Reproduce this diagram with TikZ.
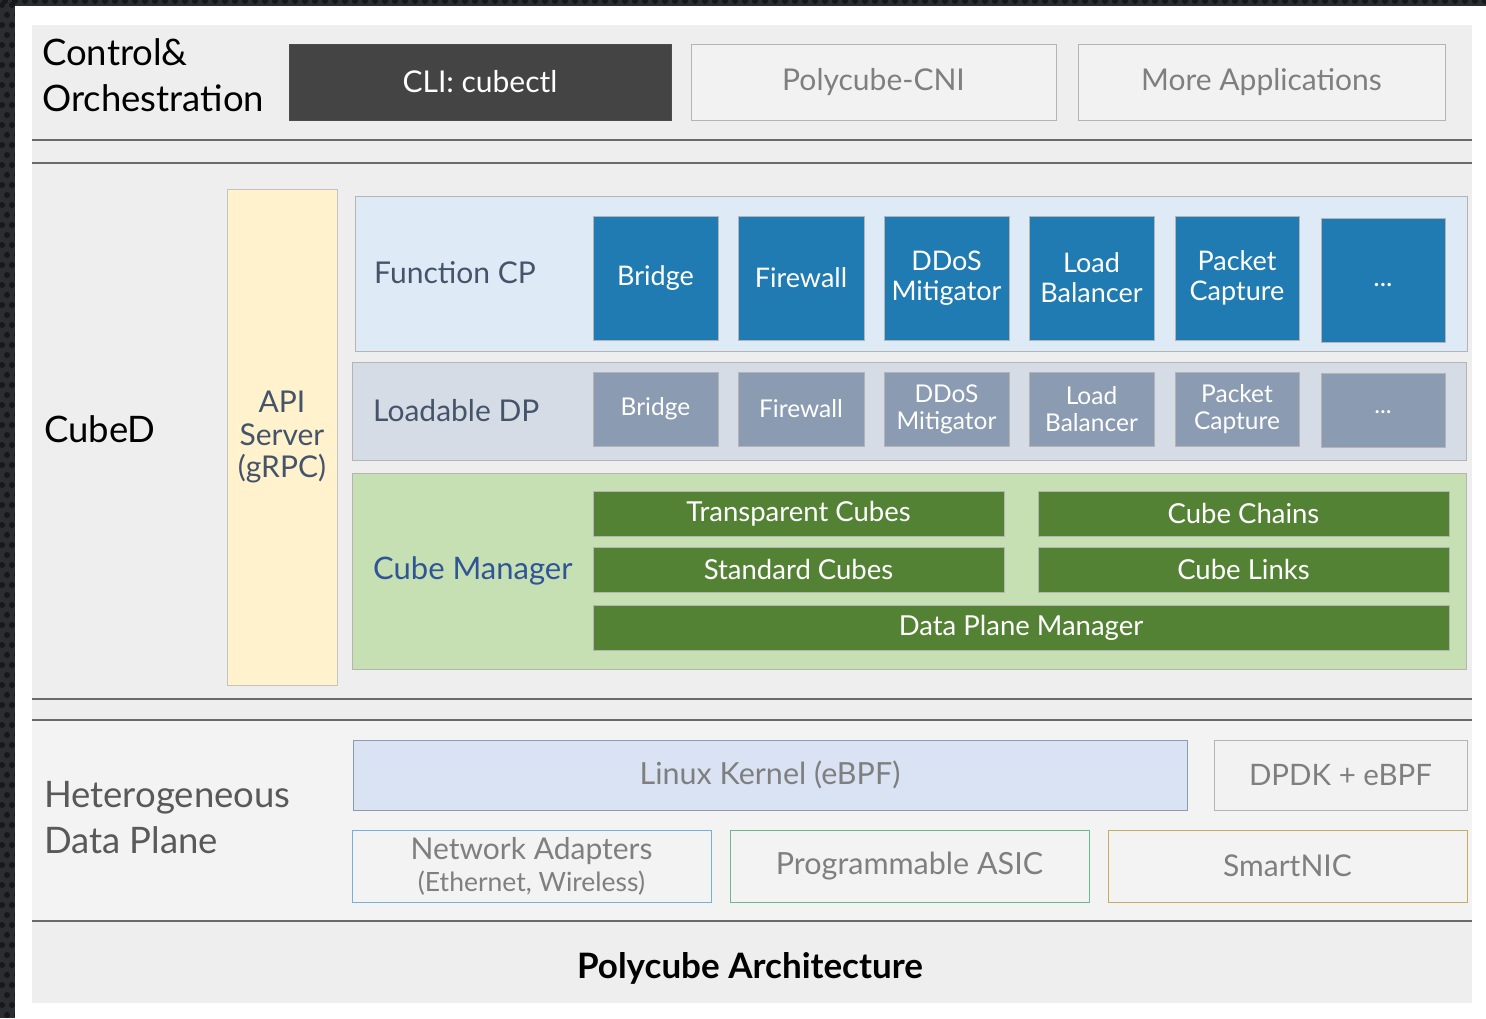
\documentclass[tikz,border=0pt]{standalone}
\usepackage{fontspec}
\setmainfont{Lato}
\definecolor{darkbg}{HTML}{2B2D30}
\definecolor{darkdot}{HTML}{17181A}
\definecolor{panelA}{HTML}{EEEEEE}
\definecolor{panelB}{HTML}{F3F3F3}
\definecolor{sepline}{HTML}{6A6A6A}
\definecolor{cliFill}{HTML}{444444}
\definecolor{lightbox}{HTML}{F2F2F2}
\definecolor{lightborder}{HTML}{B4B4B4}
\definecolor{greytext}{HTML}{7F7F7F}
\definecolor{slate}{HTML}{44546A}
\definecolor{apifill}{HTML}{FFF2CC}
\definecolor{cpfill}{HTML}{DEEBF7}
\definecolor{cpbox}{HTML}{1F7BB1}
\definecolor{dpfill}{HTML}{D6DCE5}
\definecolor{dpbox}{HTML}{8A9BB2}
\definecolor{cmfill}{HTML}{C6E0B4}
\definecolor{cmbox}{HTML}{548235}
\definecolor{cmtext}{HTML}{2F5597}
\definecolor{kernfill}{HTML}{DAE3F3}
\definecolor{kernborder}{HTML}{8C9BB0}
\definecolor{nicblue}{HTML}{71B3DC}
\definecolor{asicgreen}{HTML}{66BB8E}
\definecolor{smartgold}{HTML}{C9AB5E}
\newcommand{\boxat}[7]{\node[#6, anchor=north west, inner sep=0pt, outer sep=0pt, minimum width={(#4-#2)*1pt}, minimum height={(#5-#3)*1pt}] (#1) at (#2,#3) {#7};}
\tikzset{
  big/.style={font=\fontsize{36.5}{46}\selectfont},
  mid/.style={font=\fontsize{30}{34}\selectfont},
  hw/.style={font=\fontsize{30.5}{34}\selectfont},
  small/.style={font=\fontsize{27}{32}\selectfont},
  green/.style={font=\fontsize{27.5}{32}\selectfont},
  tiny/.style={font=\fontsize{24.5}{28}\selectfont},
  sepl/.style={draw=sepline, line width=1.4pt},
  appbox/.style={fill=lightbox, draw=lightborder, line width=1pt, text=greytext, mid, align=center},
  cpb/.style={fill=cpbox, draw=lightborder, line width=0.8pt, text=white, small, align=center},
  dpb/.style={fill=dpbox, draw=lightborder, line width=0.8pt, text=white, tiny, align=center},
  cmb/.style={fill=cmbox, draw=lightborder, line width=0.8pt, text=white, green, align=center},
  hwbox/.style={fill=panelB, line width=1pt, text=greytext, hw, align=center},
  lbl/.style={anchor=west, inner sep=0pt, align=left},
}
\begin{document}
\begin{tikzpicture}[x=1pt,y=-1pt]
\useasboundingbox (0,0) rectangle (1486,1018);
% dark background with dots
\fill[darkbg] (0,0) rectangle (1486,1018);
\foreach \j in {0,...,101} {
  \pgfmathsetmacro{\off}{mod(\j,2)*5}
  \foreach \i in {0,1} {
    \fill[darkdot] (2+\off+10*\i, 5+10*\j) circle (3);
  }
}
\foreach \i in {0,...,148} {
  \fill[darkdot] (5+10*\i, 1) circle (3);
}
\fill[white] (15,6) rectangle (1486,1018);
% section panels
\fill[panelA] (32,25) rectangle (1472,140);
\fill[panelA] (32,140) rectangle (1472,163);
\fill[panelA] (32,163) rectangle (1472,699);
\fill[panelA] (32,699) rectangle (1472,720);
\fill[panelB] (32,720) rectangle (1472,921);
\fill[panelA] (32,921) rectangle (1472,1003);
\draw[sepl] (32,140) -- (1472,140);
\draw[sepl] (32,163) -- (1472,163);
\draw[sepl] (32,699) -- (1472,699);
\draw[sepl] (32,720) -- (1472,720);
\draw[sepl] (32,921) -- (1472,921);

% Control & Orchestration
\node[lbl, big, anchor=north west, text=black] (ctl) at (42,38) {Control\&\\Orchestration};
\boxat{cli}{289}{44}{671}{120}{fill=cliFill, draw=black!70, line width=1pt, text=white, mid}{CLI: cubectl}
\boxat{cni}{691}{44}{1056}{120}{appbox}{Polycube-CNI}
\boxat{more}{1078}{44}{1445}{120}{appbox}{More Applications}

% CubeD
\node[lbl, big, text=black] (cubed) at (44,429) {CubeD};
\boxat{api}{227}{189}{337}{685}{fill=apifill, draw=lightborder!80, line width=1pt, text=slate, mid, align=center}{API\\[-1pt]Server\\[-2pt](gRPC)}

\boxat{fcp}{355}{196}{1467}{351}{fill=cpfill, draw=lightborder, line width=1pt}{}
\node[lbl, mid, text=slate] (fcplbl) at (374,273) {Function CP};
\boxat{cp1}{593}{216}{718}{340}{cpb}{Bridge}
\boxat{cp2}{738}{216}{864}{340}{cpb}{Firewall}
\boxat{cp3}{884}{216}{1009}{340}{cpb}{DDoS\\[-2pt]Mitigator}
\boxat{cp4}{1029}{216}{1154}{340}{cpb}{Load\\[-2pt]Balancer}
\boxat{cp5}{1175}{216}{1299}{340}{cpb}{Packet\\[-2pt]Capture}
\boxat{cp6}{1321}{218}{1445}{342}{cpb}{\raisebox{-6pt}[0pt][0pt]{...}}

\boxat{ldp}{352}{362}{1466}{460}{fill=dpfill, draw=lightborder, line width=1pt}{}
\node[lbl, mid, text=slate] (ldplbl) at (373,411) {Loadable DP};
\boxat{dp1}{593}{372}{718}{446}{dpb}{Bridge}
\boxat{dp2}{738}{372}{864}{446}{dpb}{Firewall}
\boxat{dp3}{884}{372}{1009}{446}{dpb}{DDoS\\[-1pt]Mitigator}
\boxat{dp4}{1029}{372}{1154}{446}{dpb}{Load\\[-1pt]Balancer}
\boxat{dp5}{1175}{372}{1299}{446}{dpb}{Packet\\[-1pt]Capture}
\boxat{dp6}{1321}{373}{1445}{447}{dpb}{\raisebox{-3pt}[0pt][0pt]{...}}

\boxat{cm}{352}{473}{1466}{669}{fill=cmfill, draw=lightborder, line width=1pt}{}
\node[lbl, mid, text=cmtext, font=\fontsize{31}{34}\selectfont] (cmlbl) at (373,571) {Cube Manager};
\boxat{tc}{593}{491}{1004}{536}{cmb}{Transparent Cubes}
\boxat{sc}{593}{547}{1004}{592}{cmb}{Standard Cubes}
\boxat{cc}{1038}{491}{1449}{536}{cmb}{Cube Chains}
\boxat{cl}{1038}{547}{1449}{592}{cmb}{Cube Links}
\boxat{dpm}{593}{605}{1449}{650}{cmb}{Data Plane Manager}

% Heterogeneous Data Plane
\node[lbl, big, anchor=north west, text=black!65] (het) at (44,781) {Heterogeneous\\Data Plane};
\boxat{kern}{353}{740}{1187}{810}{hwbox, fill=kernfill, draw=kernborder}{Linux Kernel (eBPF)}
\boxat{dpdk}{1214}{740}{1467}{810}{hwbox, fill=lightbox, draw=lightborder, font=\fontsize{29.5}{34}\selectfont}{DPDK + eBPF}
\boxat{nic}{352}{830}{711}{902}{hwbox, font=\fontsize{30}{32}\selectfont, draw=nicblue}{Network Adapters\\{\fontsize{26.5}{30}\selectfont (Ethernet, Wireless)}}
\boxat{asic}{730}{830}{1089}{902}{hwbox, draw=asicgreen}{Programmable ASIC}
\boxat{smart}{1108}{830}{1467}{902}{hwbox, draw=smartgold, font=\fontsize{30}{34}\selectfont}{SmartNIC}

% Title
\node[font=\fontsize{35}{40}\selectfont\bfseries, text=black] (title) at (750,968) {Polycube Architecture};
\end{tikzpicture}
\end{document}
